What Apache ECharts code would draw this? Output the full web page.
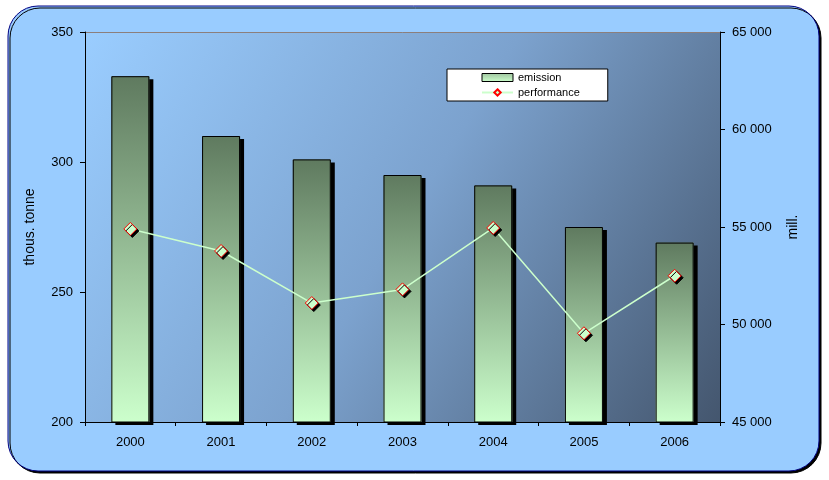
<!DOCTYPE html>
<html>
<head>
<meta charset="utf-8">
<script src="https://cdn.jsdelivr.net/npm/echarts@6/dist/echarts.min.js"></script>
<style>html,body{margin:0;padding:0;background:#fff}#c{width:829px;height:480px}</style>
</head>
<body>
<div id="c"></div>
<script>
const categories = ['2000','2001','2002','2003','2004','2005','2006'];
const emission = [333, 310, 301, 295, 291, 275, 269];
const performance = [54900, 53770, 51100, 51800, 54950, 49550, 52500];
const leftTicks = [200, 250, 300, 350];
const rightTicks = [45000, 50000, 55000, 60000, 65000];

const chart = echarts.init(document.getElementById('c'));
const font = 'Liberation Sans, Arial, sans-serif';
const barGrad = () => new echarts.graphic.LinearGradient(0, 0, 0, 1, [
  {offset: 0, color: '#5F7A5F'},
  {offset: 1, color: '#CCFFCC'}
]);
chart.setOption({
  animation: false,
  graphic: [{
    type: 'rect', z: -10, silent: true,
    shape: {x: 8, y: 6, width: 811, height: 465, r: 30},
    style: {fill: '#99CCFF', stroke: '#000080', lineWidth: 1,
      shadowColor: '#000', shadowOffsetX: 2, shadowOffsetY: 2, shadowBlur: 0}
  }],
  grid: {
    left: 85, right: 109, top: 32, bottom: 58, show: true, borderWidth: 0,
    backgroundColor: new echarts.graphic.LinearGradient(0, 0, 1, 1, [
      {offset: 0, color: '#9ACDFF'},
      {offset: 0.5, color: '#7CA2CE'},
      {offset: 1, color: '#44566E'}
    ])
  },
  legend: {
    left: 447, top: 69, orient: 'vertical',
    backgroundColor: '#fff', borderColor: '#000', borderWidth: 1, borderRadius: 0,
    padding: [3, 28, 3, 34], itemGap: 4, itemWidth: 31, itemHeight: 8,
    textStyle: {fontFamily: font, fontSize: 11, color: '#000'},
    data: [
      {name: 'emission', icon: 'rect', itemStyle: {borderColor: '#000', borderWidth: 1, shadowColor: 'rgba(0,0,0,0)',
        color: new echarts.graphic.LinearGradient(0, 0, 0, 1, [{offset: 0, color: '#9FC49F'}, {offset: 1, color: '#CCFFCC'}])}},
      {name: 'performance'}
    ]
  },
  xAxis: {
    type: 'category', data: categories,
    axisLine: {lineStyle: {color: '#000', width: 1}},
    axisTick: {show: true, length: 4, lineStyle: {color: '#000'}},
    axisLabel: {fontFamily: font, fontSize: 13, color: '#000', margin: 14},
    splitLine: {show: false}
  },
  yAxis: [{
    type: 'value', min: 200, max: 350, interval: 50, position: 'left',
    name: 'thous. tonne', nameLocation: 'middle', nameGap: 48, nameRotate: 90,
    nameTextStyle: {fontFamily: font, fontSize: 14, color: '#000'},
    axisLine: {show: true, lineStyle: {color: '#000'}},
    axisTick: {show: true, length: 5, lineStyle: {color: '#000'}},
    axisLabel: {fontFamily: font, fontSize: 13, color: '#000', margin: 12},
    splitLine: {show: true, lineStyle: {color: ['rgba(0,0,0,0)','rgba(0,0,0,0)','rgba(0,0,0,0)','#8C7F7C'], width: 1}}
  }, {
    type: 'value', min: 45000, max: 65000, interval: 5000, position: 'right',
    name: 'mill.', nameLocation: 'middle', nameGap: 66, nameRotate: 90,
    nameTextStyle: {fontFamily: font, fontSize: 14, color: '#000'},
    axisLine: {show: true, lineStyle: {color: '#000'}},
    axisTick: {show: true, length: 5, lineStyle: {color: '#000'}},
    axisLabel: {fontFamily: font, fontSize: 13, color: '#000', margin: 12,
      formatter: v => String(v).replace(/(\d+)(\d{3})$/, '$1 $2')},
    splitLine: {show: false}
  }],
  series: [{
    name: 'emission', type: 'bar', yAxisIndex: 0, data: emission, barWidth: 38, barGap: '-100%',
    itemStyle: {
      color: barGrad(), borderWidth: 0,
      shadowColor: '#000', shadowOffsetX: 4, shadowOffsetY: 3, shadowBlur: 0
    }
  }, {
    name: 'emission-outline', type: 'bar', yAxisIndex: 0, data: emission, barWidth: 38, barGap: '-100%',
    silent: true,
    itemStyle: {color: 'rgba(0,0,0,0)', borderColor: '#000', borderWidth: 1}
  }, {
    name: 'performance', type: 'line', yAxisIndex: 1, data: performance,
    symbol: 'diamond', symbolSize: 13,
    lineStyle: {color: '#CCFFCC', width: 1.5},
    itemStyle: {color: '#CCFFCC', borderColor: '#FF0000', borderWidth: 1,
      shadowColor: '#000', shadowOffsetX: 2, shadowOffsetY: 2, shadowBlur: 0}
  }]
});
</script>
</body>
</html>
